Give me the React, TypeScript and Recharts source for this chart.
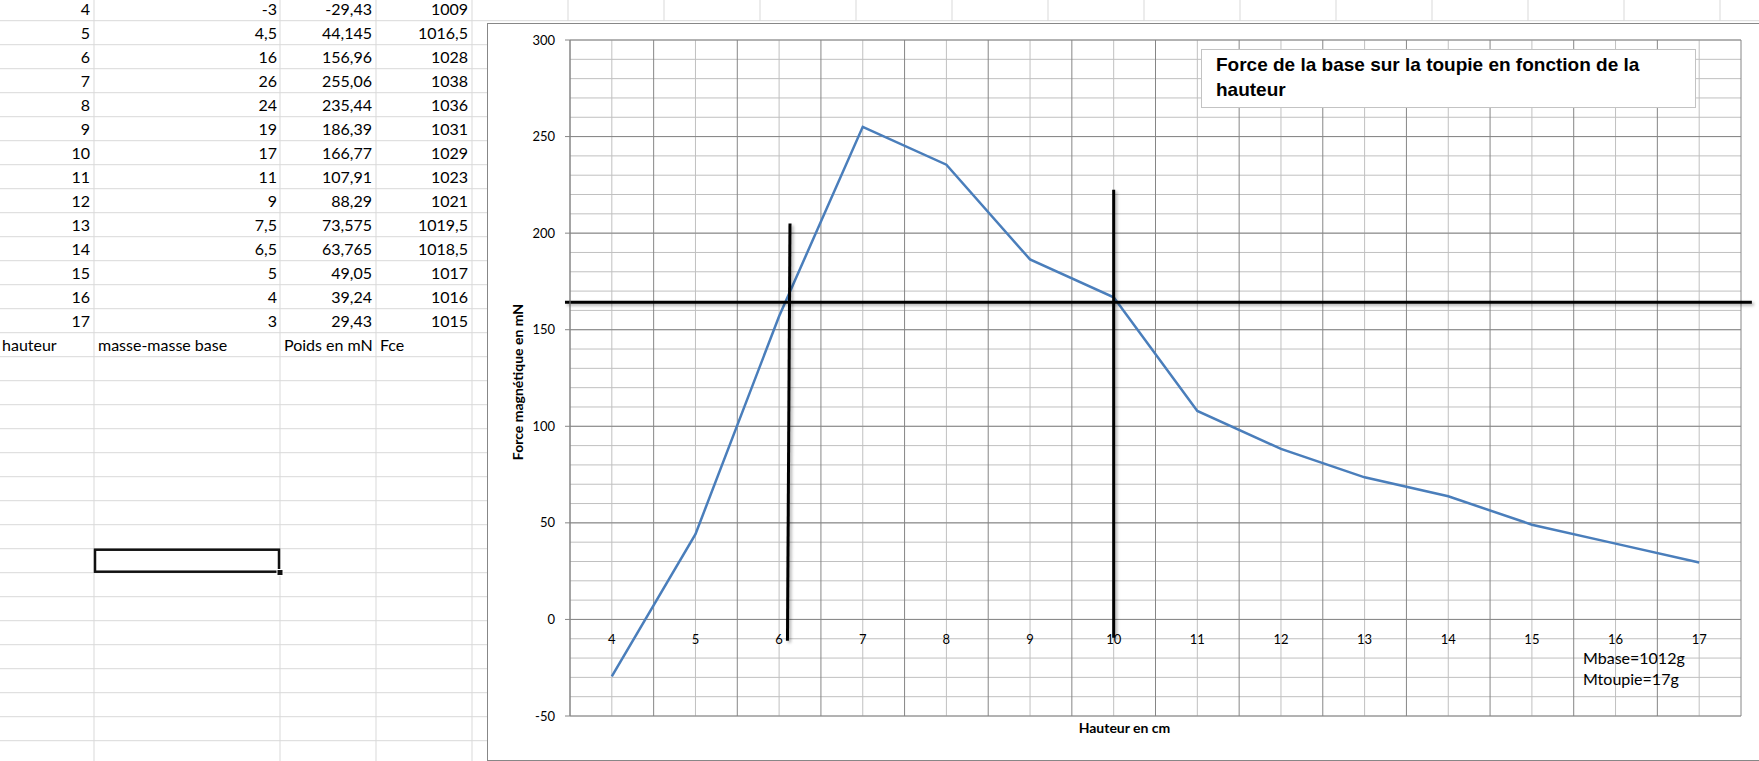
import React from 'react';
import { LineChart, Line, XAxis, YAxis, CartesianGrid, ReferenceLine } from 'recharts';

// feuille : hauteur (cm), masse-masse base (g), poids (mN), Fce
const hauteur = [4, 5, 6, 7, 8, 9, 10, 11, 12, 13, 14, 15, 16, 17];
const masseNette = [-3, 4.5, 16, 26, 24, 19, 17, 11, 9, 7.5, 6.5, 5, 4, 3];
const poids = [-29.43, 44.145, 156.96, 255.06, 235.44, 186.39, 166.77, 107.91, 88.29, 73.575, 63.765, 49.05, 39.24, 29.43];
const fce = [1009, 1016.5, 1028, 1038, 1036, 1031, 1029, 1023, 1021, 1019.5, 1018.5, 1017, 1016, 1015];
const enTetes = ['hauteur', 'masse-masse base', 'Poids en mN', 'Fce'];

const yTicks = [-50, 0, 50, 100, 150, 200, 250, 300];
const titre = 'Force de la base sur la toupie en fonction de la hauteur';
const notes = ['Mbase=1012g', 'Mtoupie=17g'];

// traits noirs tracés à la main par-dessus le graphique
const traits = [
  { x1: 6.13, y1: 205, x2: 6.1, y2: -11 },
  { x1: 10, y1: 222.5, x2: 10, y2: -9.5 },
  { x1: 3.44, y1: 164.2, x2: 17.63, y2: 164.2 },
];

const data = hauteur.map((h, i) => ({ h, p: poids[i] }));

const Y_MIN = -50;
const Y_MAX = 300;
const X_MIN = 3.5;
const X_MAX = 17.5;

// grille : principale aux limites de catégorie / tous les 50, secondaire au milieu / tous les 10
const xMajor = [...hauteur.map((h) => h - 0.5), X_MAX];
const yMinor: number[] = [];
for (let v = Y_MIN; v <= Y_MAX; v += 10) yMinor.push(v);

const CHART_W = 1274;
const CHART_H = 736;
const M = { top: 16, right: 21, left: 0, bottom: 0 };
const Y_AXIS_W = 82;
const X_AXIS_H = 44;
const PLOT_H = CHART_H - M.top - X_AXIS_H;
const ZERO_UP = (PLOT_H * (0 - Y_MIN)) / (Y_MAX - Y_MIN);

const FONT = 'Lato, "Liberation Sans", sans-serif';
const fr = (v: number) => String(v).replace('.', ',');

const XTick = ({ x, y, payload }: any) => (
  <text x={x} y={y - ZERO_UP + 20} textAnchor="middle" dominantBaseline="central" fontFamily={FONT} fontSize={13} fill="#000">
    {payload.value}
  </text>
);

// feuille de calcul derrière le graphique
const ROW0 = 20.7;
const ROW_H = 24;
const COLS = [94, 280, 376, 472, 568, 664, 760, 856, 952, 1048, 1144, 1240, 1336, 1432, 1528, 1624, 1720];

const Sheet = () => {
  const rows: number[] = [];
  for (let y = ROW0; y < 761; y += ROW_H) rows.push(y);
  const bottom = (k: number) => ROW0 + ROW_H * k - 5.5;
  const txt = { fontFamily: FONT, fontSize: 16, fill: '#000' };
  return (
    <svg width={1759} height={761} style={{ position: 'absolute', left: 0, top: 0 }}>
      {rows.map((y, i) => (
        <line key={'r' + i} x1={0} x2={i === 0 ? 1759 : 488} y1={y} y2={y} stroke="#d9d9d9" />
      ))}
      {COLS.map((x, i) => (
        <line key={'c' + i} x1={x} x2={x} y1={0} y2={x < 488 ? 761 : 21} stroke="#d9d9d9" />
      ))}
      {hauteur.map((h, k) => (
        <g key={'d' + k} {...txt} textAnchor="end">
          <text x={90} y={bottom(k)}>{h}</text>
          <text x={277} y={bottom(k)}>{fr(masseNette[k])}</text>
          <text x={372} y={bottom(k)}>{fr(poids[k])}</text>
          <text x={468} y={bottom(k)}>{fr(fce[k])}</text>
        </g>
      ))}
      {enTetes.map((t, i) => (
        <text key={t} x={[2, 98, 284, 380][i]} y={bottom(14)} {...txt}>{t}</text>
      ))}
      <rect x={95} y={549.7} width={184} height={22} fill="none" stroke="#111" strokeWidth={2.5} />
      <rect x={277} y={569.5} width={6} height={6} fill="#111" stroke="#fff" strokeWidth={1} />
    </svg>
  );
};

export default function App() {
  return (
    <div style={{ position: 'fixed', left: 0, top: 0, width: 1759, height: 761, overflow: 'hidden', background: '#fff' }}>
      <Sheet />
      <div
        style={{
          position: 'absolute',
          left: 487,
          top: 23,
          width: CHART_W,
          height: CHART_H,
          border: '1px solid #878787',
          background: '#fff',
        }}
      >
        <LineChart width={CHART_W} height={CHART_H} data={data} margin={M}>
          <defs>
            <filter id="ombre" filterUnits="userSpaceOnUse" x={0} y={0} width={CHART_W} height={CHART_H}>
              <feDropShadow dx={2} dy={2} stdDeviation={1.5} floodColor="#000" floodOpacity={0.3} />
            </filter>
          </defs>
          <CartesianGrid stroke="#c0c0c0" horizontalValues={yMinor} verticalValues={hauteur} />
          <CartesianGrid stroke="#868686" horizontalValues={yTicks} verticalValues={xMajor} />
          <XAxis
            dataKey="h"
            type="number"
            domain={[X_MIN, X_MAX]}
            ticks={hauteur}
            interval={0}
            height={X_AXIS_H}
            axisLine={false}
            tickLine={false}
            tickSize={0}
            tickMargin={0}
            tick={<XTick />}
            label={{
              content: ({ viewBox }: any) => (
                <text
                  x={viewBox.x + viewBox.width / 2 - 31}
                  y={viewBox.y + 11}
                  textAnchor="middle"
                  dominantBaseline="central"
                  fontFamily={FONT}
                  fontWeight="bold"
                  fontSize={14}
                  fill="#000"
                >
                  Hauteur en cm
                </text>
              ),
            }}
          />
          <YAxis
            domain={[Y_MIN, Y_MAX]}
            ticks={yTicks}
            interval={0}
            width={Y_AXIS_W}
            axisLine={{ stroke: '#868686' }}
            tickLine={{ stroke: '#868686' }}
            tickSize={5}
            tickMargin={10}
            tick={{ fontFamily: FONT, fontSize: 13, fill: '#000' }}
            label={{
              content: ({ viewBox }: any) => {
                const cx = viewBox.x + 29;
                const cy = viewBox.y + viewBox.height / 2 + 4;
                return (
                  <text
                    x={cx}
                    y={cy}
                    transform={`rotate(-90, ${cx}, ${cy})`}
                    textAnchor="middle"
                    dominantBaseline="central"
                    fontFamily={FONT}
                    fontWeight="bold"
                    fontSize={14}
                    fill="#000"
                  >
                    Force magnétique en mN
                  </text>
                );
              },
            }}
          />
          <Line
            type="linear"
            dataKey="p"
            stroke="#4a7ebb"
            strokeWidth={2.5}
            dot={false}
            activeDot={false}
            isAnimationActive={false}
          />
          {traits.map((t, i) => (
            <ReferenceLine
              key={i}
              segment={[
                { x: t.x1, y: t.y1 },
                { x: t.x2, y: t.y2 },
              ]}
              stroke="#000"
              strokeWidth={3}
              ifOverflow="visible"
              filter="url(#ombre)"
            />
          ))}
        </LineChart>
        <div
          style={{
            position: 'absolute',
            left: 713,
            top: 25,
            width: 495,
            height: 59,
            boxSizing: 'border-box',
            border: '1px solid #c3c3c3',
            background: '#fff',
            padding: '2px 0 0 14px',
            fontFamily: '"Liberation Sans", Arial, sans-serif',
            fontWeight: 'bold',
            fontSize: 19,
            lineHeight: '25px',
            color: '#000',
          }}
        >
          <div style={{ width: 470 }}>{titre}</div>
        </div>
        <div
          style={{
            position: 'absolute',
            left: 1095,
            top: 623,
            fontFamily: FONT,
            fontSize: 16,
            lineHeight: '21px',
            color: '#000',
          }}
        >
          {notes.map((n) => (
            <div key={n}>{n}</div>
          ))}
        </div>
      </div>
    </div>
  );
}
